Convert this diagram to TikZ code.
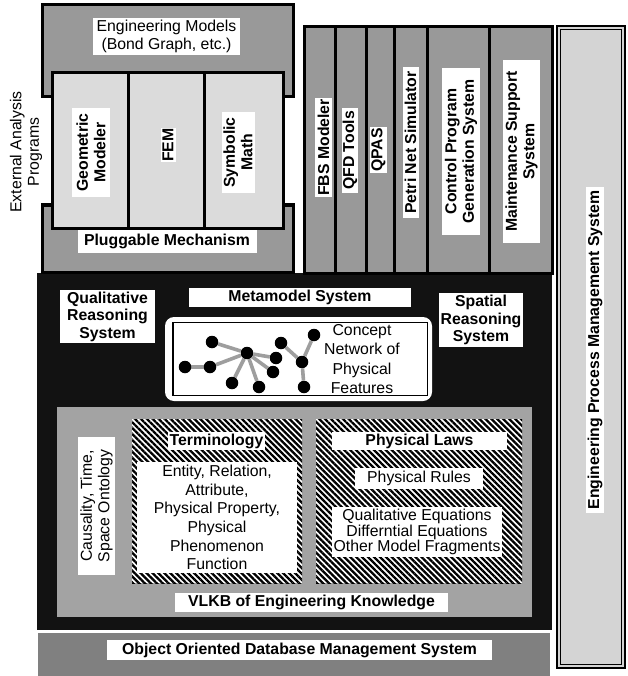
\documentclass[tikz,border=0pt]{standalone}
\usepackage{fontspec}
\setmainfont{Liberation Sans}
\usetikzlibrary{patterns.meta}

\definecolor{framegray}{gray}{0.60}
\definecolor{panelgray}{gray}{0.86}
\definecolor{colgray}{gray}{0.60}
\definecolor{epmsgray}{gray}{0.83}
\definecolor{vlkbgray}{gray}{0.64}
\definecolor{dbgray}{gray}{0.50}
\definecolor{coregray}{gray}{0.07}
\definecolor{linkgray}{gray}{0.62}

\pgfdeclarelayer{fg}
\pgfsetlayers{main,fg}

\begin{document}
\begin{tikzpicture}[x=1pt,y=-1pt,
  font={\fontsize{15.8}{17.5}\selectfont},
  frame/.style={draw=black, line width=3pt},
  lbl/.style={fill=white, inner sep=0pt, align=center,
    font={\fontsize{15.8}{17.5}\selectfont\bfseries}},
  plain/.style={fill=white, inner sep=0pt, align=center,
    font={\fontsize{15.8}{17.5}\selectfont}},
  vlbl/.style={lbl, rotate=90},
  hatch/.style={pattern={Lines[angle=-45,distance=4.2pt,line width=2.3pt]}, pattern color=black},
  dot/.style={circle, fill=black, inner sep=0pt, minimum size=12.5pt},
  link/.style={draw=linkgray, line width=3.6pt}
]
\useasboundingbox (0,0) rectangle (627,676);

% ---- knowledge core (black block) ----
\fill[coregray] (37,273) rectangle (552,630);

% reasoning systems and metamodel
\node[lbl, minimum width=95pt, minimum height=53pt] (qrs) at (107.5,316.5)
  {Qualitative\\Reasoning\\System};
\node[lbl, minimum width=222pt, minimum height=19pt] (meta) at (300,297.5)
  {Metamodel System};
\node[lbl, minimum width=84pt, minimum height=54pt] (srs) at (481,320)
  {Spatial\\Reasoning\\System};

% concept network panel
\fill[white, rounded corners=9pt] (165,317) rectangle (432,401);
\node[align=center, inner sep=0pt, font={\fontsize{15.8}{19.5}\selectfont}] (cnet) at (362,359)
  {Concept\\Network of\\Physical\\Features};
\draw[black, line width=1.5pt] (173,322.5) rectangle (427.5,395.5);

\begin{pgfonlayer}{fg}
  \node[dot] (n1) at (212,342) {};
  \node[dot] (n2) at (185,367) {};
  \node[dot] (n3) at (210,367) {};
  \node[dot] (n4) at (247,353) {};
  \node[dot] (n5) at (232,383) {};
  \node[dot] (n6) at (259,387) {};
  \node[dot] (n7) at (273,372) {};
  \node[dot] (n8) at (276,358) {};
  \node[dot] (n9) at (281,343) {};
  \node[dot] (n10) at (302,362) {};
  \node[dot] (n11) at (314,335) {};
  \node[dot] (n12) at (304,387) {};
\end{pgfonlayer}
\draw[link] (n1) -- (n4);
\draw[link] (n2) -- (n3);
\draw[link] (n3) -- (n4);
\draw[link] (n4) -- (n5);
\draw[link] (n4) -- (n6);
\draw[link] (n4) -- (n7);
\draw[link] (n4) -- (n8);
\draw[link] (n9) -- (n10);
\draw[link] (n11) -- (n10);
\draw[link] (n10) -- (n12);

% VLKB of engineering knowledge
\fill[vlkbgray] (57,407) rectangle (532,617);
\node[plain, rotate=90, minimum width=138pt, minimum height=37pt] (onto) at (96.5,506)
  {Causality, Time,\\Space Ontology};

\fill[white] (132,419) rectangle (302,583);
\fill[hatch] (132,419) rectangle (302,583);
\node[lbl, minimum width=97pt, minimum height=18pt] (term) at (216.5,441) {Terminology};
\node[plain, minimum width=160pt, minimum height=111pt,
  font={\fontsize{15.8}{18.7}\selectfont}] (termbody) at (217,517.5)
  {Entity, Relation,\\Attribute,\\Physical Property,\\Physical\\Phenomenon\\Function};

\fill[white] (316,419) rectangle (522,583);
\fill[hatch] (316,419) rectangle (522,583);
\node[lbl, minimum width=175pt, minimum height=18pt] (laws) at (419.5,441) {Physical Laws};
\node[plain, minimum width=128pt, minimum height=21pt] (rules) at (419,478.5) {Physical Rules};
\node[plain, minimum width=170pt, minimum height=50pt,
  font={\fontsize{15.8}{15.5}\selectfont}] (eqs) at (417,532)
  {Qualitative Equations\\Differntial Equations\\Other Model Fragments};

\node[lbl, minimum width=273pt, minimum height=19pt] (vlkb) at (311.5,602.5)
  {VLKB of Engineering Knowledge};

% ---- object oriented database ----
\fill[dbgray] (38,633) rectangle (550,676);
\node[lbl, minimum width=385pt, minimum height=20pt] (oodb) at (299.5,650)
  {Object Oriented Database Management System};

% ---- external analysis programs ----
\fill[framegray] (42,5) rectangle (293,97);
\draw[frame] (42,5) rectangle (293,97);
\fill[framegray] (42,205) rectangle (293,272);
\draw[frame] (42,205) rectangle (293,272);
\fill[panelgray] (52,73) rectangle (283,228);
\draw[frame] (52,73) rectangle (283,228);
\draw[frame] (128,73) -- (128,228);
\draw[frame] (204,73) -- (204,228);

\node[plain, minimum width=147pt, minimum height=37pt] (engm) at (166.5,36.5)
  {Engineering Models\\(Bond Graph, etc.)};
\node[lbl, minimum width=179pt, minimum height=23pt] (plug) at (167,241.5)
  {Pluggable Mechanism};
\node[vlbl, minimum width=89pt, minimum height=38pt] (geo) at (91,152.5)
  {Geometric\\Modeler};
\node[vlbl, minimum width=32pt, minimum height=15pt] (fem) at (168,145) {FEM};
\node[vlbl, minimum width=81pt, minimum height=33pt] (sym) at (238,152.5)
  {Symbolic\\Math};
\node[rotate=90, align=center, inner sep=0pt] (ext) at (26,152)
  {External Analysis\\Programs};

% ---- design support tools ----
\fill[colgray] (304,27) rectangle (552,273);
\draw[frame] (304,27) rectangle (552,273);
\foreach \xd in {335,366,394,427,489}
  \draw[frame] (\xd,27) -- (\xd,273);

\node[vlbl, minimum width=99pt, minimum height=17pt] (fbs) at (323.5,147.5) {FBS Modeler};
\node[vlbl, minimum width=85pt, minimum height=16pt] (qfd) at (350,150.5) {QFD Tools};
\node[vlbl, minimum width=46pt, minimum height=17pt] (qpas) at (378.5,150) {QPAS};
\node[vlbl, minimum width=151pt, minimum height=16pt] (petri) at (410.5,142.5) {Petri Net Simulator};
\node[vlbl, minimum width=167pt, minimum height=38pt] (cpg) at (461,151.5)
  {Control Program\\Generation System};
\node[vlbl, minimum width=183pt, minimum height=37pt] (mss) at (521.5,151.5)
  {Maintenance Support\\System};

% ---- engineering process management ----
\fill[epmsgray] (557,26) rectangle (625,668);
\draw[black, line width=2.5pt] (557,26) rectangle (625,668);
\draw[black, line width=0.6pt] (560.5,29.5) rectangle (621.5,664.5);
\node[vlbl, minimum width=326pt, minimum height=18pt] (epms) at (595,350)
  {Engineering Process Management System};

\end{tikzpicture}
\end{document}
